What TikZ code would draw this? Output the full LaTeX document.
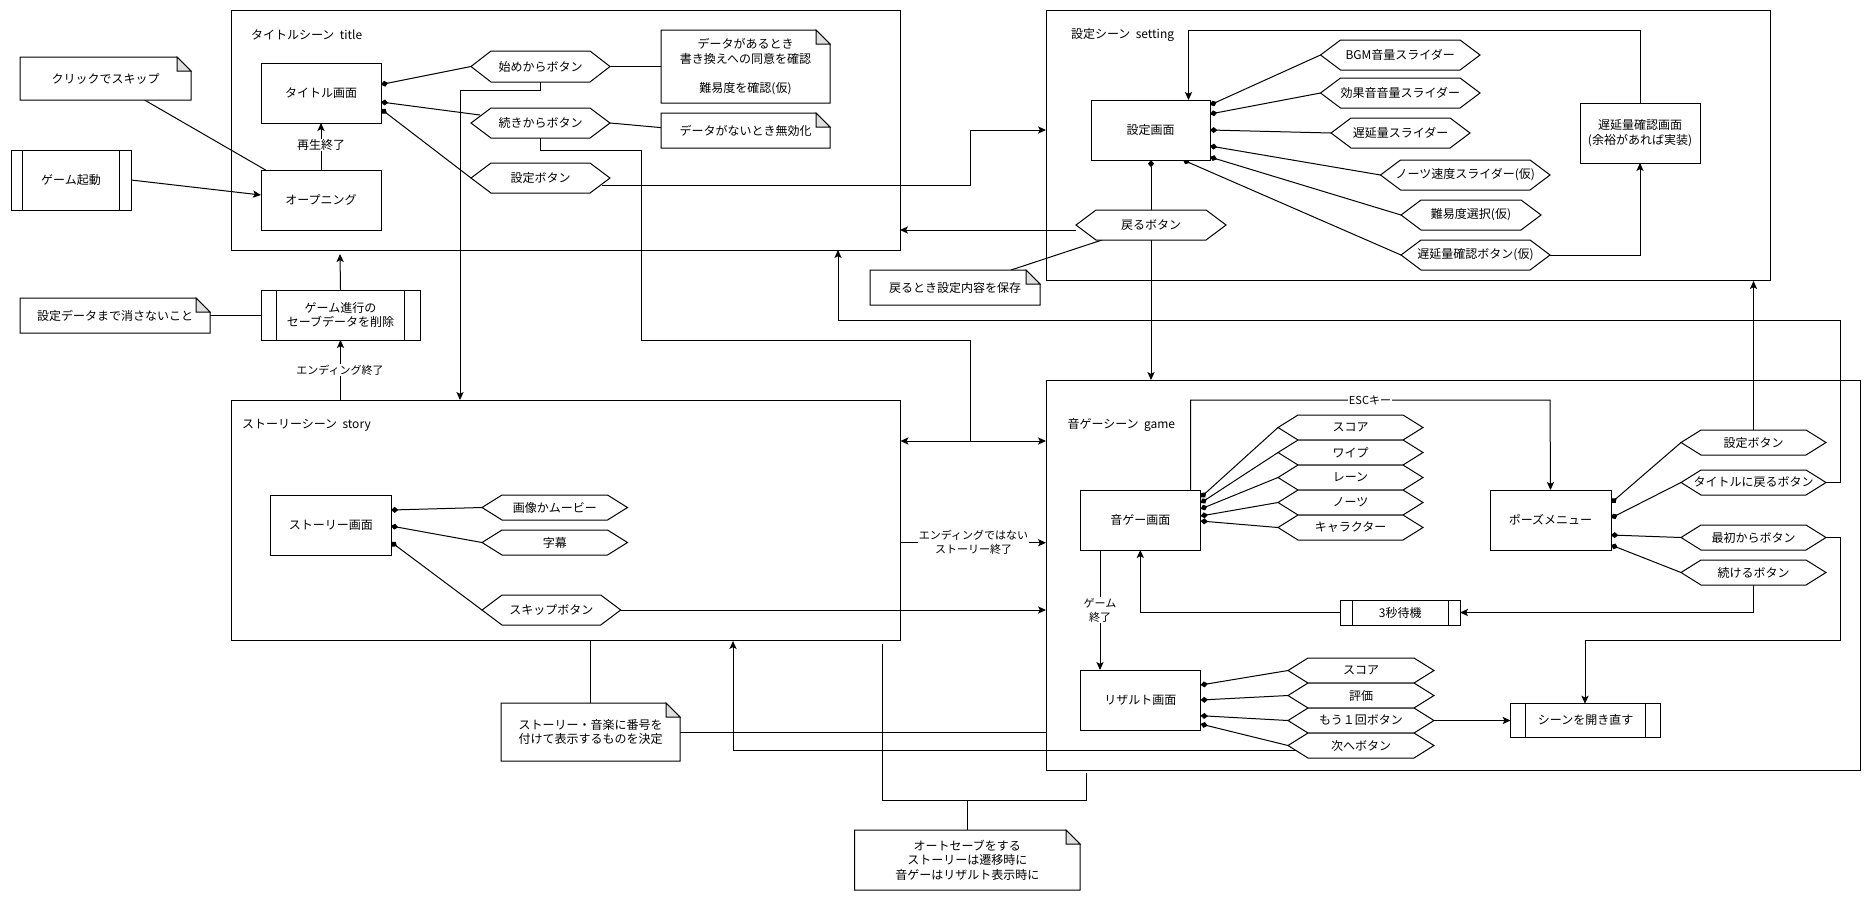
\documentclass[tikz,border=0pt]{standalone}
\usepackage{fontspec}
\setmainfont{Noto Sans CJK JP}
\usetikzlibrary{arrows.meta,calc,backgrounds}
\pgfdeclarelayer{scene}
\pgfdeclarelayer{wires}
\pgfsetlayers{scene,wires,main}
\tikzset{
  x=0.75pt,y=-0.75pt,
  base/.style={inner sep=0pt,outer sep=0pt,align=center,font=\fontsize{9}{11}\selectfont},
  rectn/.style={base,draw=black,line width=.75pt,fill=white},
  blank/.style={base},
  shp/.style={draw=black,line width=.75pt,fill=white,line join=miter},
  scenebox/.style={base,draw=black,line width=.75pt,fill=white},
  wire/.style={draw=black,line width=.75pt},
  arr/.style={wire,-{Stealth[length=6pt,width=5.4pt,inset=1.4pt]}},
  darr/.style={wire,{Stealth[length=6pt,width=5.4pt,inset=1.4pt]}-{Stealth[length=6pt,width=5.4pt,inset=1.4pt]}},
  dia/.style={wire,-{Diamond[length=5.5pt,width=4.5pt]}},
  lab/.style={base,fill=white,inner sep=.6pt},
  sm/.style={lab,font=\fontsize{8.25}{10.5}\selectfont},
  title/.style={base,anchor=west},
}
% name x1 y1 x2 y2 text
\newcommand{\bxn}[6]{\node[rectn,minimum width={(#4-#2)*0.75pt},minimum height={(#5-#3)*0.75pt}] (#1) at ({(#2+#4)/2},{(#3+#5)/2}) {#6};}
\newcommand{\scenen}[5]{\begin{pgfonlayer}{scene}\node[scenebox,minimum width={(#4-#2)*0.75pt},minimum height={(#5-#3)*0.75pt}] (#1) at ({(#2+#4)/2},{(#3+#5)/2}) {};\end{pgfonlayer}}
\newcommand{\hexn}[6]{\path[shp] (#2,{(#3+#5)/2}) -- ({#2+20},#3) -- ({#4-20},#3) -- (#4,{(#3+#5)/2}) -- ({#4-20},#5) -- ({#2+20},#5) -- cycle;
  \node[blank,minimum width={(#4-#2)*0.75pt},minimum height={(#5-#3)*0.75pt}] (#1) at ({(#2+#4)/2},{(#3+#5)/2}) {#6};}
\newcommand{\noten}[6]{\path[shp] (#2,#3) -- ({#4-14},#3) -- (#4,{#3+14}) -- (#4,#5) -- (#2,#5) -- cycle;
  \path[shp,fill=black!12] ({#4-14},#3) -- ({#4-14},{#3+14}) -- (#4,{#3+14}) -- cycle;
  \node[blank,minimum width={(#4-#2)*0.75pt},minimum height={(#5-#3)*0.75pt}] (#1) at ({(#2+#4)/2},{(#3+#5)/2}) {#6};}
% name x1 y1 x2 y2 inset text
\newcommand{\procn}[7]{\bxn{#1}{#2}{#3}{#4}{#5}{#7}
  \draw[wire] ({#2+#6},#3) -- ({#2+#6},#5) ({#4-#6},#3) -- ({#4-#6},#5);}
\begin{document}
\begin{tikzpicture}
\useasboundingbox (0,0) rectangle (1871,901);
% scenes
\scenen{scTitle}{231}{10}{900}{250}
\scenen{scSet}{1046}{10}{1770}{280}
\scenen{scStory}{231}{400}{900.5}{640}
\scenen{scGame}{1046}{380}{1860}{770}
\node[title] (tTitle) at (251,35) {タイトルシーン\ \ title};
\node[title] (tSet) at (1071,35) {設定シーン\ \ setting};
\node[title] (tStory) at (242,425) {ストーリーシーン\ \ story};
\node[title] (tGame) at (1067.5,425) {音ゲーシーン\ \ game};
% title scene
\bxn{tGamen}{261}{63}{381}{123}{タイトル画面}
\bxn{opn}{261}{170}{381}{230}{オープニング}
\hexn{hStart}{471}{51}{610}{82}{始めからボタン}
\hexn{hCont}{471}{108}{610}{138}{続きからボタン}
\hexn{hConf}{471}{163}{610}{193}{設定ボタン}
\noten{nData}{661}{30}{830}{103}{データがあるとき\\書き換えへの同意を確認\\[11pt]難易度を確認(仮)}
\noten{nNoData}{661}{113}{830}{148}{データがないとき無効化}
\noten{nSkip}{20}{57}{191}{100}{クリックでスキップ}
\procn{pBoot}{11}{150}{131}{210}{11.5}{ゲーム起動}
\procn{pDel}{261}{290}{420}{340}{15.5}{ゲーム進行の\\セーブデータを削除}
\noten{nKeep}{20}{298}{210}{333}{設定データまで消さないこと}
% setting scene
\bxn{setG}{1091}{100}{1210}{160}{設定画面}
\hexn{hBgm}{1320.5}{40}{1480}{70}{BGM音量スライダー}
\hexn{hSe}{1320.5}{78}{1480}{108}{効果音音量スライダー}
\hexn{hDelay}{1331}{118}{1470}{148}{遅延量スライダー}
\hexn{hNote}{1380.5}{160}{1550}{190}{ノーツ速度スライダー(仮)}
\hexn{hDiff}{1401}{200}{1541}{230}{難易度選択(仮)}
\hexn{hChk}{1401}{240}{1550}{270}{遅延量確認ボタン(仮)}
\bxn{chkG}{1580}{103}{1700}{163}{遅延量確認画面\\(余裕があれば実装)}
\hexn{hBack}{1076}{210}{1226}{240}{戻るボタン}
\noten{nBack}{870}{270}{1040}{305}{戻るとき設定内容を保存}
% story scene
\bxn{stG}{270.5}{495}{391}{555}{ストーリー画面}
\hexn{hImg}{482}{495}{627.5}{520}{画像かムービー}
\hexn{hSub}{482}{530}{627.5}{555}{字幕}
\hexn{hSkip}{482}{595}{620.7}{625}{スキップボタン}
\noten{nNum}{501}{703}{680}{761}{ストーリー・音楽に番号を\\付けて表示するものを決定}
\noten{nAuto}{854.6}{830}{1080}{890}{オートセーブをする\\ストーリーは遷移時に\\音ゲーはリザルト表示時に}
% game scene
\bxn{gmG}{1080}{490}{1200.6}{550}{音ゲー画面}
\hexn{gScore}{1278}{415}{1423}{440}{スコア}
\hexn{gWipe}{1278}{440}{1423}{465}{ワイプ}
\hexn{gLane}{1278}{465}{1423}{490}{レーン}
\hexn{gNote}{1278}{490}{1423}{515}{ノーツ}
\hexn{gChar}{1278}{515}{1423}{540}{キャラクター}
\bxn{pause}{1490}{490}{1611}{550}{ポーズメニュー}
\hexn{pConf}{1681}{430}{1826}{455}{設定ボタン}
\hexn{pTitle}{1681}{470}{1826}{495}{タイトルに戻るボタン}
\hexn{pFirst}{1681}{525}{1826}{550}{最初からボタン}
\hexn{pCont}{1681}{560}{1826}{585}{続けるボタン}
\procn{pWait}{1340.5}{600}{1460}{625}{12}{3秒待機}
\bxn{resG}{1080}{670}{1200.6}{730}{リザルト画面}
\hexn{rScore}{1288}{658}{1434}{683}{スコア}
\hexn{rEval}{1288}{683}{1434}{708}{評価}
\hexn{rAgain}{1288}{708}{1434}{733}{もう１回ボタン}
\hexn{rNext}{1288}{733}{1434}{758}{次へボタン}
\procn{pReopen}{1510.6}{703.7}{1660.6}{737}{15}{シーンを開き直す}
% helper points on the borders
\coordinate (c1) at (381,84.5); \coordinate (c2) at (381,102); \coordinate (c3) at (381,109);
\coordinate (c4) at (480,115);
\coordinate (c5) at (602,185);
\coordinate (c6) at (144.5,100); \coordinate (c7) at (265.6,170);
\coordinate (c8) at (261,195);
\coordinate (c9) at (340,254);
\coordinate (c10) at (661,127.6);
\coordinate (s1) at (1210,105); \coordinate (s2) at (1210,114); \coordinate (s3) at (1210,130);
\coordinate (s4) at (1210,146); \coordinate (s5) at (1210,157); \coordinate (s6) at (1183,160);
\coordinate (s7) at (1188.5,100);
\coordinate (s8) at (1011,270); \coordinate (s9) at (1102,240);
\coordinate (s10) at (900,230); \coordinate (s11) at (1076,230);
\coordinate (t1) at (391,510); \coordinate (t2) at (391,526); \coordinate (t3) at (391,542);
\coordinate (g1) at (1200.6,497.5); \coordinate (g2) at (1200.6,503); \coordinate (g3) at (1200.6,509);
\coordinate (g4) at (1200.6,516); \coordinate (g5) at (1200.6,521);
\coordinate (p1) at (1611,503); \coordinate (p2) at (1611,518); \coordinate (p3) at (1611,535); \coordinate (p4) at (1611,545);
\coordinate (r1) at (1200.6,685); \coordinate (r2) at (1200.6,700); \coordinate (r3) at (1200.6,715.7); \coordinate (r4) at (1200.6,724);
\coordinate (esc) at (1190.5,490);
\coordinate (back1) at (838,250); \coordinate (back2) at (1753,281);
\coordinate (as1) at (882.4,644); \coordinate (as2) at (1086,773);
\coordinate (d1) at (900.5,441); \coordinate (d2) at (1046,441);
\coordinate (e1) at (900.5,542.7); \coordinate (e2) at (1046,542.7);
\coordinate (f1) at (1046,610);
\coordinate (k1) at (1046,732.7); \coordinate (k2) at (680,732.7);
\coordinate (m1) at (733,641); \coordinate (m3) at (1296,750.3);
\begin{pgfonlayer}{wires}
% title scene
\draw[arr] (opn.north) -- (tGamen.south);
\draw[arr] (pBoot.east) -- (c8);
\draw[wire] (c6) -- (c7);
\draw[dia] (hStart.west) -- (c1);
\draw[dia] (c4) -- (c2);
\draw[dia] (hConf.west) -- (c3);
\draw[wire] (hStart.east) -- (hStart.east -| nData.west);
\draw[wire] (hCont.east) -- (c10);
\draw[arr] (hStart.south) -- ++(0,8) -| (460,400);
\draw[wire] (hCont.south) -- ++(0,12) -| (641,340) -| (d1 -| 970.5,441);
\draw[arr] (c5) -| (970.5,130) -- (970.5,130 -| scSet.west);
\draw[arr] (pDel.north) -- (c9);
\draw[wire] (nKeep.east) -- (nKeep.east -| pDel.west);
\draw[arr] (scStory.north -| pDel.south) -- (pDel.south);
% setting scene
\draw[dia] (hBgm.west) -- (s1);
\draw[dia] (hSe.west) -- (s2);
\draw[dia] (hDelay.west) -- (s3);
\draw[dia] (hNote.west) -- (s4);
\draw[dia] (hDiff.west) -- (s5);
\draw[dia] (hChk.west) -- (s6);
\draw[arr] (hChk.east) -| (chkG.south);
\draw[arr] (chkG.north) |- (1188.5,30) -- (s7);
\draw[dia] (hBack.north) -- (setG.south -| hBack.north);
\draw[arr] (hBack.south) -- (hBack.south |- scGame.north);
\draw[arr] (s11) -- (s10);
\draw[wire] (s8) -- (s9);
% story scene
\draw[dia] (hImg.west) -- (t1);
\draw[dia] (hSub.west) -- (t2);
\draw[dia] (hSkip.west) -- (t3);
\draw[arr] (hSkip.east) -- (f1);
\draw[darr] (d1) -- (d2);
\draw[arr] (e1) -- (e2);
\draw[wire] (nNum.north) -- (nNum.north |- scStory.south);
\draw[wire] (k2) -- (k1);
\draw[wire] (as1) |- (as2 |- 0,800) -- (as2);
\draw[wire] (nAuto.north) -- (nAuto.north |- 0,800);
% game scene
\draw[arr] (esc) |- (1550,400) -- (pause.north);
\draw[dia] (gScore.west) -- (g1);
\draw[dia] (gWipe.west) -- (g2);
\draw[dia] (gLane.west) -- (g3);
\draw[dia] (gNote.west) -- (g4);
\draw[dia] (gChar.west) -- (g5);
\draw[dia] (pConf.west) -- (p1);
\draw[dia] (pTitle.west) -- (p2);
\draw[dia] (pFirst.west) -- (p3);
\draw[dia] (pCont.west) -- (p4);
\draw[arr] (pCont.south) |- (pWait.east);
\draw[arr] (pWait.west) -| (gmG.south);
\draw[arr] (gmG.south -| 1100,0) -- (resG.north -| 1100,0);
\draw[dia] (rScore.west) -- (r1);
\draw[dia] (rEval.west) -- (r2);
\draw[dia] (rAgain.west) -- (r3);
\draw[dia] (rNext.west) -- (r4);
\draw[arr] (rAgain.east) -- (rAgain.east -| pReopen.west);
\draw[arr] (pFirst.east) -- (1840,537.5) |- (1585,640) -- (pReopen.north -| 1585,0);
\draw[arr] (pTitle.east) -- (1840,482.5) |- (838,320) -- (back1);
\draw[arr] (pConf.north) -- (pConf.north |- back2);
\draw[arr] (m3) -| (m1);
\end{pgfonlayer}
% connector labels
\node[lab] (lPlay) at (321,145) {再生終了};
\node[sm] (lEnd) at (340,370) {エンディング終了};
\node[sm] (lNot) at (973.6,542.7) {エンディングではない\\ストーリー終了};
\node[sm] (lEsc) at (1370,400) {ESCキー};
\node[sm] (lOver) at (1100,610) {ゲーム\\終了};
\end{tikzpicture}
\end{document}
